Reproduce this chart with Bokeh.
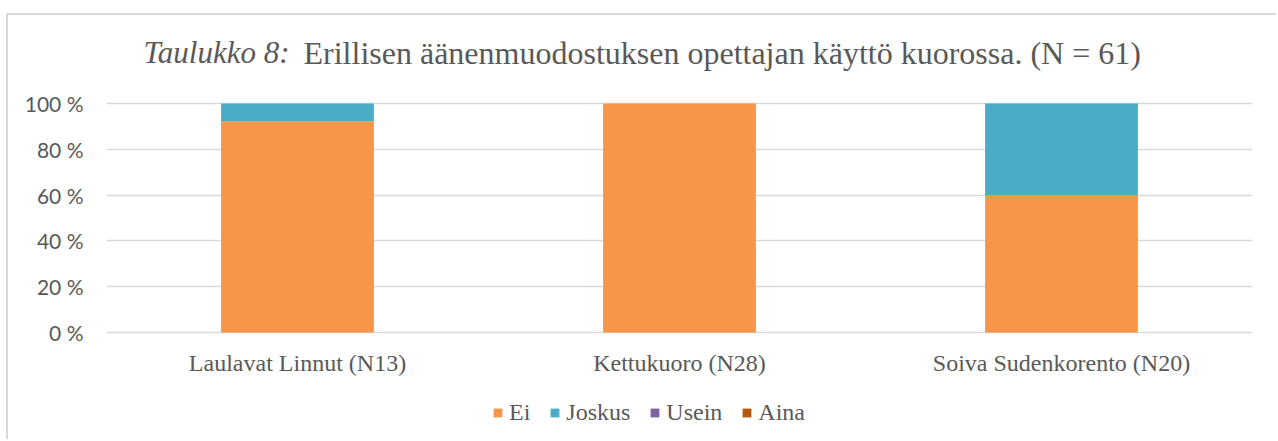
from bokeh.plotting import figure
from bokeh.models import Range1d, FixedTicker, Legend, LegendItem, Label
from bokeh.core.properties import value
from bokeh.embed import file_html
from bokeh.resources import INLINE

# ---- data ----
categories = ["Laulavat Linnut (N13)", "Kettukuoro (N28)", "Soiva Sudenkorento (N20)"]
series = ["Ei", "Joskus", "Usein", "Aina"]
ei = [92.3, 100.0, 60.0]
joskus = [7.7, 0.0, 40.0]
usein = [0.0, 0.0, 0.0]
aina = [0.0, 0.0, 0.0]
colors = ["#F79646", "#4BACC6", "#8064A2", "#B65708"]
y_ticks = [0, 20, 40, 60, 80, 100]
y_tick_labels = ["0 %", "20 %", "40 %", "60 %", "80 %", "100 %"]
title_italic = "Taulukko 8:"
title_rest = "Erillisen äänenmuodostuksen opettajan käyttö kuorossa. (N = 61)"

TEXT = "#595959"
GRID = "#D9D9D9"

# ---- layout (pixels) ----
W, H = 1270, 426          # canvas size
FRAME_LEFT = 98
PX_PER_PCT = 2.29         # 100 % = 229 px
ZERO_FROM_TOP = 317       # 0 % line, px below canvas top
y_end = ZERO_FROM_TOP / PX_PER_PCT
y_start = -(H - ZERO_FROM_TOP) / PX_PER_PCT

data = {"cat": categories, "Ei": ei, "Joskus": joskus, "Usein": usein, "Aina": aina}

p = figure(x_range=categories, y_range=Range1d(y_start, y_end),
           width=W, height=H, output_backend="svg", toolbar_location=None,
           min_border_left=FRAME_LEFT, min_border_right=26, min_border_top=0, min_border_bottom=0)
p.styles = {"border-top": "2px solid #D9D9D9", "border-left": "2px solid #D9D9D9",
            "margin-top": "13px", "margin-left": "6px"}

renderers = p.vbar_stack(series, x="cat", width=0.4, color=colors, line_color=None, source=data)

p.outline_line_color = None
p.xgrid.grid_line_color = None
p.ygrid.grid_line_color = GRID
p.ygrid.grid_line_width = 1.5
p.ygrid.ticker = FixedTicker(ticks=y_ticks)

p.yaxis.ticker = FixedTicker(ticks=y_ticks)
p.yaxis.major_label_overrides = {t: l for t, l in zip(y_ticks, y_tick_labels)}
p.yaxis.axis_line_color = None
p.yaxis.major_tick_line_color = None
p.yaxis.minor_tick_line_color = None
p.yaxis.major_tick_in = 0
p.yaxis.major_tick_out = 0
p.yaxis.major_label_standoff = 23
p.yaxis.major_label_text_font = "Lato"
p.yaxis.major_label_text_font_size = "21px"
p.yaxis.major_label_text_color = TEXT

p.xaxis.visible = False

# category labels under the bars
p.text(x=categories, y=[-30 / PX_PER_PCT] * len(categories), text=categories,
       text_align="center", text_baseline="middle",
       text_font=value("Liberation Serif"), text_font_size="24px", text_color=TEXT)

legend = Legend(items=[LegendItem(label=s, renderers=[r]) for s, r in zip(series, renderers)],
                location=(386, 15), orientation="horizontal",
                glyph_width=11, glyph_height=11, label_standoff=6, spacing=19,
                padding=0, margin=0, border_line_color=None, background_fill_alpha=0,
                label_text_font="Liberation Serif", label_text_font_size="24px",
                label_text_color=TEXT)
p.add_layout(legend)

p.add_layout(Label(x=0, y=100, x_offset=183, y_offset=51, text=title_italic,
                   text_align="right", text_baseline="alphabetic",
                   text_font="Liberation Serif", text_font_style="italic",
                   text_font_size="31px", text_color=TEXT))
p.add_layout(Label(x=0, y=100, x_offset=197, y_offset=51, text=title_rest,
                   text_align="left", text_baseline="alphabetic",
                   text_font="Liberation Serif", text_font_size="32px", text_color=TEXT))

open("out.html", "w").write(file_html(p, INLINE))
